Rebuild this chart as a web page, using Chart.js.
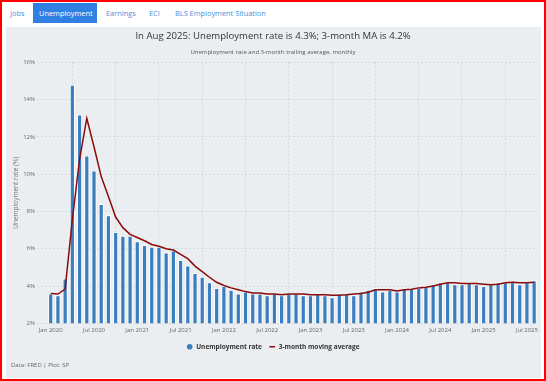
<!DOCTYPE html>
<html>
<head>
<meta charset="utf-8">
<script src="https://cdn.jsdelivr.net/npm/chart.js@4/dist/chart.umd.min.js"></script>
<style>
  html, body { margin: 0; padding: 0; }
  body { width: 546px; height: 381px; background: #ffffff; position: relative; overflow: hidden; font-family: "Open Sans", sans-serif; }
  #frame { position: absolute; left: 0; top: 0; width: 546px; height: 381px; box-sizing: border-box; border: 2px solid #ff0000; pointer-events: none; z-index: 10; }
  .tab { position: absolute; top: 3px; height: 20px; line-height: 20px; font-size: 7.4px; color: #4a8fdc; white-space: nowrap; }
  .tab.active { background: #2f80e2; color: #ffffff; padding: 0 6px; }
  #panel { position: absolute; left: 6px; top: 27px; width: 535px; height: 351px; background: #ebeef0; }
  #source { position: absolute; left: 11px; top: 361px; font-size: 6px; color: #666; white-space: nowrap; }
</style>
</head>
<body>
<div class="tab" style="left:10px;">Jobs</div>
<div class="tab active" style="left:33px;width:52px;">Unemployment</div>
<div class="tab" style="left:106px;">Earnings</div>
<div class="tab" style="left:149px;">ECI</div>
<div class="tab" style="left:175px;">BLS Employment Situation</div>
<div id="panel"><canvas id="c" width="535" height="351"></canvas></div>
<div id="source">Data: FRED | Plot: SP</div>
<div id="frame"></div>
<script>
const months = [
  "Jan 2020","Feb 2020","Mar 2020","Apr 2020","May 2020","Jun 2020","Jul 2020","Aug 2020","Sep 2020","Oct 2020","Nov 2020","Dec 2020",
  "Jan 2021","Feb 2021","Mar 2021","Apr 2021","May 2021","Jun 2021","Jul 2021","Aug 2021","Sep 2021","Oct 2021","Nov 2021","Dec 2021",
  "Jan 2022","Feb 2022","Mar 2022","Apr 2022","May 2022","Jun 2022","Jul 2022","Aug 2022","Sep 2022","Oct 2022","Nov 2022","Dec 2022",
  "Jan 2023","Feb 2023","Mar 2023","Apr 2023","May 2023","Jun 2023","Jul 2023","Aug 2023","Sep 2023","Oct 2023","Nov 2023","Dec 2023",
  "Jan 2024","Feb 2024","Mar 2024","Apr 2024","May 2024","Jun 2024","Jul 2024","Aug 2024","Sep 2024","Oct 2024","Nov 2024","Dec 2024",
  "Jan 2025","Feb 2025","Mar 2025","Apr 2025","May 2025","Jun 2025","Jul 2025","Aug 2025"
];
const unemploymentRate = [
  3.6,3.5,4.4,14.8,13.2,11.0,10.2,8.4,7.8,6.9,6.7,6.7,
  6.4,6.2,6.1,6.1,5.8,5.9,5.4,5.1,4.7,4.5,4.2,3.9,
  4.0,3.8,3.6,3.7,3.6,3.6,3.5,3.6,3.5,3.6,3.6,3.5,
  3.5,3.6,3.5,3.4,3.6,3.6,3.5,3.7,3.8,3.9,3.7,3.8,
  3.7,3.9,3.9,3.9,4.0,4.1,4.2,4.2,4.1,4.1,4.2,4.1,
  4.0,4.1,4.2,4.2,4.2,4.1,4.2,4.3
];
const movingAverage3m = [
  3.6,3.57,3.83,7.57,10.8,13.0,11.47,9.87,8.8,7.7,7.13,6.77,
  6.6,6.43,6.23,6.13,6.0,5.93,5.7,5.47,5.07,4.77,4.47,4.2,
  4.03,3.9,3.8,3.7,3.63,3.63,3.57,3.57,3.53,3.57,3.57,3.57,
  3.53,3.53,3.53,3.5,3.5,3.53,3.57,3.6,3.67,3.8,3.8,3.8,
  3.73,3.8,3.83,3.9,3.93,4.0,4.1,4.17,4.17,4.13,4.13,4.13,
  4.1,4.07,4.1,4.17,4.2,4.17,4.17,4.2
];
const xTickLabels = ["Jan 2020","Jul 2020","Jan 2021","Jul 2021","Jan 2022","Jul 2022","Jan 2023","Jul 2023","Jan 2024","Jul 2024","Jan 2025","Jul 2025"];
const yTickValues = [2,4,6,8,10,12,14,16];

const barData = unemploymentRate.map((v, i) => ({ x: i, y: v }));
const lineData = movingAverage3m.map((v, i) => ({ x: i, y: v }));
const xTickIdx = xTickLabels.map(l => months.indexOf(l));

const gridColor = '#d6d9dc';
const tickFont = { family: 'Open Sans', size: 6 };

new Chart(document.getElementById('c'), {
  data: {
    datasets: [
      {
        type: 'bar', label: 'Unemployment rate', data: barData, order: 1,
        backgroundColor: '#3a7ec0', borderColor: '#ffffff', borderWidth: { left: 1, right: 1, top: 1, bottom: 0 },
        barPercentage: 0.72, categoryPercentage: 1, pointStyle: 'circle'
      },
      {
        type: 'line', label: '3-month moving average', data: lineData, order: 0,
        borderColor: '#8b0a0a', backgroundColor: '#8b0a0a', borderWidth: 1.5,
        pointRadius: 0, tension: 0, pointStyle: 'line'
      }
    ]
  },
  options: {
    responsive: false,
    animation: false,
    devicePixelRatio: 1,
    layout: { padding: { left: 0, right: 1, top: 0, bottom: 18 } },
    plugins: {
      tooltip: { enabled: false },
      title: {
        display: true,
        text: 'In Aug 2025: Unemployment rate is 4.3%; 3-month MA is 4.2%',
        color: '#333333', font: { family: 'Open Sans', size: 9.6, weight: 'normal' },
        padding: { top: 3.6, bottom: 6.2 }
      },
      subtitle: {
        display: true,
        text: 'Unemployment rate and 3-month trailing average, monthly',
        color: '#555555', font: { family: 'Open Sans', size: 6 },
        padding: { top: 0, bottom: 6.8 }
      },
      legend: {
        position: 'bottom',
        labels: {
          usePointStyle: true, boxHeight: 4, padding: 7,
          color: '#333333', font: { family: 'Open Sans', size: 6.5, weight: 'bold' },
          sort: (a, b) => a.datasetIndex - b.datasetIndex,
          generateLabels: (chart) => {
            const items = Chart.defaults.plugins.legend.labels.generateLabels(chart);
            items.forEach(it => {
              if (it.datasetIndex === 0) { it.strokeStyle = '#3a7ec0'; it.lineWidth = 0; }
              else { it.lineWidth = 1.5; }
            });
            return items;
          }
        }
      }
    },
    scales: {
      x: {
        type: 'linear', min: -1.9, max: 67.5, offset: false,
        afterBuildTicks: (s) => { s.ticks = xTickIdx.map(v => ({ value: v })); },
        ticks: {
          autoSkip: false, maxRotation: 0, padding: 3, color: '#666666', font: tickFont,
          callback: (v) => months[v]
        },
        grid: { color: gridColor, lineWidth: 1, drawTicks: false },
        border: { display: false, dash: [2, 2] }
      },
      y: {
        min: 2, max: 16,
        afterBuildTicks: (s) => { s.ticks = yTickValues.map(v => ({ value: v })); },
        afterFit: (s) => { s.width = 31; },
        ticks: { padding: 2, color: '#666666', font: tickFont, callback: (v) => v + '%' },
        grid: { color: gridColor, lineWidth: 1, drawTicks: false },
        border: { display: false, dash: [2, 2] },
        title: {
          display: true, text: 'Unemployment rate (%)', color: '#777777',
          font: { family: 'Open Sans', size: 6.5 }, padding: { top: 6, bottom: 0 }
        }
      }
    }
  }
});
</script>
</body>
</html>
